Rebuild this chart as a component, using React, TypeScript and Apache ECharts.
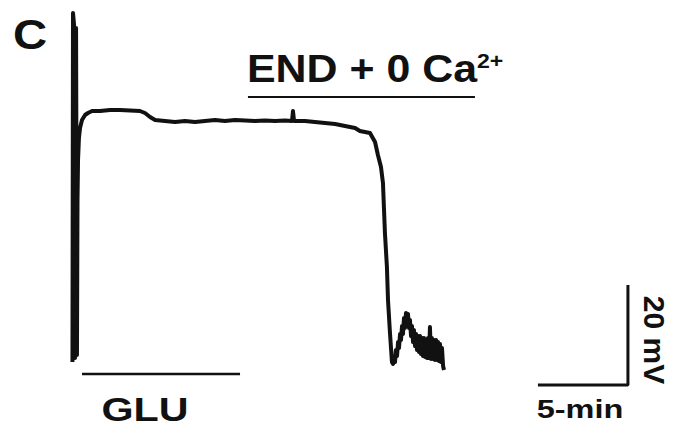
import React, { useEffect, useRef } from "react";
import * as echarts from "echarts";

// Membrane potential trace (time in min, potential in mV, relative)
const traceTime = [
  0.47, 0.5, 0.56, 0.61, 0.67, 0.72, 0.75, 0.78, 0.83, 0.89, 1.0, 1.17, 1.33, 1.56,
  2.0, 2.56, 3.11, 3.67, 4.22, 4.5, 4.78, 5.06, 5.61, 6.17, 6.72, 7.28, 7.83, 8.39,
  8.94, 9.5, 10.06, 10.61, 11.17, 11.72, 12.28, 12.67, 12.72, 12.78, 13.39, 13.94,
  14.5, 15.06, 15.61, 16.17, 16.44, 17.0, 17.28, 17.44, 17.61, 17.72, 17.83, 17.94,
  18.0, 18.11,
  18.22, 18.28, 18.33, 18.39, 18.44, 18.5, 18.56, 18.61, 18.67, 18.72, 18.78, 18.83,
  18.89, 18.94, 19.0, 19.06, 19.11, 19.17, 19.22, 19.28, 19.33, 19.39, 19.44, 19.5,
  19.56, 19.61, 19.67, 19.72, 19.78, 19.83, 19.89, 19.94, 20.0, 20.06, 20.11, 20.17,
  20.22, 20.28, 20.33, 20.39, 20.44, 20.5, 20.56, 20.61, 20.67, 20.72, 20.78, 20.83,
  20.89, 20.94, 21.0, 21.06, 21.11,
];
const traceMv = [
  -0.4, 69.4, 67.0, 0.4, 66.4, 1.0, 32.0, 40.0, 44.4, 46.4, 48.0, 49.0, 49.4, 49.8,
  49.8, 50.0, 50.0, 49.9, 49.8, 49.4, 48.6, 48.0, 47.8, 47.6, 47.8, 47.6, 47.8, 48.0,
  47.8, 48.0, 47.9, 47.8, 47.9, 47.8, 47.9, 47.8, 49.8, 47.8, 47.8, 47.6,
  47.4, 47.2, 46.8, 46.4, 45.8, 45.4, 43.6, 41.0, 38.6, 35.4, 25.4, 18.6,
  12.0, 5.4,
  -0.4, -0.8, 0.4, -0.4, 2.0, 0.8, 3.6, 2.4, 5.2, 4.0, 6.8, 5.2,
  8.4, 6.4, 9.4, 7.2, 9.2, 6.4, 8.0, 4.8, 6.8, 3.6, 6.0, 2.8,
  5.2, 2.0, 4.8, 1.6, 4.8, 1.2, 4.4, 0.8, 4.4, 0.6, 4.0, 0.4,
  4.4, 0.4, 6.6, 0.2, 4.4, 0.2, 4.0, 0.0, 4.0, 0.0, 3.6, -0.2,
  3.2, -0.4, 2.4, -1.2, -2.0,
];

// Drug application periods (min)
const gluPeriod = [1.0, 9.78];
const endPeriod = [10.22, 22.83];
const gluBarLevel = -2.8;
const endBarLevel = 52.6;

// Scale bar
const scaleBarMin = 5;
const scaleBarMv = 20;
const scaleBarCorner = [31.33, -5];

const INK = "#111";
const FONT = "'Liberation Sans', Arial, Helvetica, sans-serif";

export default function App() {
  const ref = useRef<HTMLDivElement>(null);

  useEffect(() => {
    if (!ref.current) return;
    const chart = echarts.init(ref.current, undefined, { renderer: "svg" });
    const trace = traceTime.map((t, i) => [t, traceMv[i]]);
    const [cx, cy] = scaleBarCorner;
    chart.setOption({
      animation: false,
      backgroundColor: "#ffffff",
      grid: { left: 64, right: 15, top: 10, bottom: 21 },
      xAxis: { type: "value", min: 0, max: 33, show: false },
      yAxis: { type: "value", min: -10, max: 70, show: false },
      series: [
        {
          type: "line",
          data: trace,
          symbol: "none",
          clip: false,
          lineStyle: { color: INK, width: 4, join: "round" },
        },
        {
          type: "line",
          data: [
            [gluPeriod[0], gluBarLevel],
            [gluPeriod[1], gluBarLevel],
          ],
          symbol: "none",
          clip: false,
          lineStyle: { color: INK, width: 2.5 },
        },
        {
          type: "line",
          data: [
            [endPeriod[0], endBarLevel],
            [endPeriod[1], endBarLevel],
          ],
          symbol: "none",
          clip: false,
          lineStyle: { color: INK, width: 2 },
        },
        {
          type: "line",
          data: [
            [cx, cy + scaleBarMv],
            [cx, cy],
            [cx - scaleBarMin, cy],
          ],
          symbol: "none",
          clip: false,
          lineStyle: { color: INK, width: 3 },
        },
      ],
      graphic: [
        {
          type: "text",
          x: 30,
          y: 34,
          scaleX: 1.1,
          style: { text: "C", font: `bold 43px ${FONT}`, fill: INK, align: "center", verticalAlign: "middle" },
        },
        {
          type: "text",
          x: 247,
          y: 69,
          scaleX: 1.1,
          style: { text: "END + 0 Ca", font: `bold 39px ${FONT}`, fill: INK, align: "left", verticalAlign: "middle" },
        },
        {
          type: "text",
          x: 477,
          y: 61,
          scaleX: 1.1,
          style: { text: "2+", font: `bold 21px ${FONT}`, fill: INK, align: "left", verticalAlign: "middle" },
        },
        {
          type: "text",
          x: 145,
          y: 410,
          scaleX: 1.25,
          style: { text: "GLU", font: `bold 33px ${FONT}`, fill: INK, align: "center", verticalAlign: "middle" },
        },
        {
          type: "text",
          x: 580,
          y: 409,
          scaleX: 1.3,
          style: { text: "5-min", font: `bold 25px ${FONT}`, fill: INK, align: "center", verticalAlign: "middle" },
        },
        {
          type: "text",
          x: 654,
          y: 340,
          rotation: -Math.PI / 2,
          style: { text: "20 mV", font: `bold 30px ${FONT}`, fill: INK, align: "center", verticalAlign: "middle" },
        },
      ],
    });
    return () => chart.dispose();
  }, []);

  return (
    <div
      ref={ref}
      style={{ position: "fixed", left: 0, top: 0, width: 673, height: 431, background: "#fff" }}
    />
  );
}
